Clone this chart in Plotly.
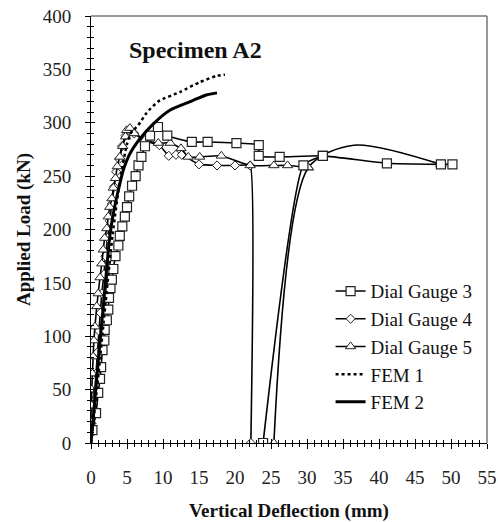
import plotly.graph_objects as go

N = None
# ---- data (Vertical deflection in mm, applied load in kN) ----
dg3_x = [0.2, 0.7, 1.0, 1.25, 1.4, 1.6, 1.85, 1.9, 2.2, 2.4, 2.5, 2.7, 2.9, 3.1, 3.4, 3.8, 4.0, 4.35, 4.7,
         5.0, 5.3, 5.7, 6.2, 6.6, 7.0, 7.5, 8.2, 9.3, 10.6, 14.0, 16.2, 20.2, 23.3, 23.3, 26.2, 32.2, 41.1,
         48.6, 50.2, N, 23.9, 29.5, 32.2]
dg3_y = [12, 28, 47, 60, 71, 87, 96, 106, 115, 125, 136, 145, 153, 163, 175, 185, 194, 203, 212,
         221, 231, 241, 250, 260, 268, 278, 288, 296, 288, 282, 282, 281, 279, 269, 268, 269, 262,
         261, 261, N, 0, 260, 269]

dg4_x = [0.1, 0.3, 0.5, 0.7, 0.9, 1.1, 1.3, 1.5, 1.8, 2.0, 2.3, 2.6, 2.9, 3.2, 3.5, 3.9, 4.3, 4.8, 5.3,
         6.0, 7.5, 9.5, 10.8, 11.8, 12.6, 15.0, 17.5, 20.0, 22.1, 22.2]
dg4_y = [10, 25, 45, 65, 85, 105, 122, 140, 158, 175, 192, 208, 224, 240, 254, 266, 278, 288, 293,
         290, 283, 279, 269, 270, 270, 261, 260, 260, 260, 0]

dg5_x = [0.0, 0.1, 0.1, 0.2, 0.3, 0.4, 0.55, 0.8, 1.0, 1.25, 1.5, 1.7, 1.9, 2.2, 2.4, 2.6, 2.9, 3.1, 3.4,
         3.65, 4.0, 4.4, 4.8, 4.95, 5.4, 6.0, 7.5, 9.35, 11.0, 12.5, 13.5, 15.1, 18.1, 22.1, 25.4, 27.3,
         30.2]
dg5_y = [20, 35, 50, 65, 81, 96, 109, 128, 140, 155, 168, 181, 192, 201, 212, 221, 229, 239, 248,
         259, 268, 278, 287, 293, 295, 290, 284, 281, 281, 276, 268, 268, 269, 260, 260, 260,
         258]
# reloading branch of gauge 5 (measured points) and the smoothed curve through it
dg5_tail_x = [25.4, 30.2, 48.6]
dg5_tail_y = [0, 258, 261]
dg5_curve_x = [25.4, 30.2, 36.5, 48.6]
dg5_curve_y = [0, 258, 279, 261]

fem1_x = [0, 1.0, 2.0, 3.0, 4.0, 5.0, 5.5, 6.6, 7.7, 9.35, 12.4, 15.1, 17.5, 18.6]
fem1_y = [0, 62, 130, 195, 245, 280, 290, 298, 309, 320, 329, 338, 344, 345]

fem2_x = [0, 0.5, 1.0, 1.5, 2.0, 2.6, 3.1, 3.8, 4.5, 5.4, 6.8, 8.65, 11.0, 14.2, 16.0, 17.5]
fem2_y = [0, 38, 76, 113, 150, 193, 215, 237, 256, 271, 285, 299, 312, 321, 326, 328]

x_ticks = list(range(0, 56, 5))
y_ticks = list(range(0, 401, 50))

SERIF = "Liberation Serif, Times New Roman, serif"
LW = 1.6

PLOT_L, PLOT_T, PLOT_R, PLOT_B = 91, 16, 487, 443
W, H = 498, 522

fig = go.Figure()

tri_marker = dict(symbol="triangle-up", size=9, color="white", line=dict(color="#222", width=1))
fig.add_trace(go.Scatter(
    x=dg4_x, y=dg4_y, name="Dial Gauge 4", mode="lines+markers", legendrank=2,
    line=dict(color="black", width=LW, shape="spline", smoothing=0.3),
    marker=dict(symbol="diamond", size=7, color="white", line=dict(color="#222", width=1)),
))
fig.add_trace(go.Scatter(
    x=dg5_x, y=dg5_y, name="Dial Gauge 5", mode="lines+markers", legendrank=3,
    legendgroup="dg5",
    line=dict(color="black", width=LW, shape="spline", smoothing=0.5),
    marker=tri_marker,
))
fig.add_trace(go.Scatter(
    x=dg5_curve_x, y=dg5_curve_y, name="Dial Gauge 5", mode="lines", showlegend=False,
    legendgroup="dg5", hoverinfo="skip",
    line=dict(color="black", width=LW, shape="spline", smoothing=0.8),
))
fig.add_trace(go.Scatter(
    x=dg5_tail_x, y=dg5_tail_y, name="Dial Gauge 5", mode="markers", showlegend=False,
    legendgroup="dg5", marker=tri_marker,
))
fig.add_trace(go.Scatter(
    x=dg3_x, y=dg3_y, name="Dial Gauge 3", mode="lines+markers", legendrank=1,
    line=dict(color="black", width=LW, shape="spline", smoothing=0.5),
    marker=dict(symbol="square", size=9, color="white", line=dict(color="#222", width=1.2)),
))
fig.add_trace(go.Scatter(
    x=fem1_x, y=fem1_y, name="FEM 1", mode="lines", legendrank=4,
    line=dict(color="black", width=2.5, dash="dot", shape="spline", smoothing=0.6),
))
fig.add_trace(go.Scatter(
    x=fem2_x, y=fem2_y, name="FEM 2", mode="lines", legendrank=5,
    line=dict(color="black", width=3, shape="spline", smoothing=0.6),
))
# helper invisible trace for the inside-tick overlay axes
fig.add_trace(go.Scatter(x=[0], y=[0], xaxis="x2", yaxis="y2", mode="markers",
                         marker=dict(opacity=0), showlegend=False, hoverinfo="skip"))

tickfont = dict(family=SERIF, size=19, color="#222")
pw, ph = PLOT_R - PLOT_L, PLOT_B - PLOT_T

fig.update_layout(
    width=W, height=H,
    margin=dict(l=PLOT_L, r=W - PLOT_R, t=PLOT_T, b=H - PLOT_B),
    paper_bgcolor="white", plot_bgcolor="white",
    showlegend=True,
    legend=dict(x=0.605, y=0.40, xanchor="left", yanchor="top",
                font=dict(family=SERIF, size=19, color="#111"),
                bgcolor="rgba(255,255,255,0)", tracegroupgap=0,
                traceorder="normal"),
    xaxis=dict(range=[0, 55], tickvals=x_ticks, ticks="outside", ticklen=5, tickwidth=1,
               tickcolor="black", showline=True, linecolor="black", linewidth=1,
               showgrid=False, zeroline=False, tickfont=tickfont, ticklabelstandoff=12,
               automargin=False, ticklabeloverflow="allow",
               minor=dict(dtick=1, ticks="outside", ticklen=3, tickcolor="black", showgrid=False),
               title=dict(text="<b>Vertical Deflection (mm)</b>", standoff=16,
                          font=dict(family=SERIF, size=19, color="#111"))),
    yaxis=dict(range=[0, 400], tickvals=y_ticks, ticks="outside", ticklen=5, tickwidth=1,
               tickcolor="black", showline=True, linecolor="black", linewidth=1,
               showgrid=False, zeroline=False, tickfont=tickfont, ticklabelstandoff=10,
               automargin=False, ticklabeloverflow="allow",
               minor=dict(dtick=10, ticks="outside", ticklen=3, tickcolor="black", showgrid=False),
               title=dict(text="<b>Applied Load (kN)</b>", standoff=7,
                          font=dict(family=SERIF, size=19, color="#111"))),
    xaxis2=dict(range=[0, 55], overlaying="x", anchor="y2", side="bottom", tickvals=x_ticks,
                ticks="inside", ticklen=4, tickcolor="black", showticklabels=False,
                showline=False, showgrid=False, zeroline=False,
                minor=dict(dtick=1, ticks="inside", ticklen=3, tickcolor="black", showgrid=False)),
    yaxis2=dict(range=[0, 400], overlaying="y", anchor="x2", side="left", tickvals=y_ticks,
                ticks="inside", ticklen=4, tickcolor="black", showticklabels=False,
                showline=False, showgrid=False, zeroline=False,
                minor=dict(dtick=10, ticks="inside", ticklen=3, tickcolor="black", showgrid=False)),
    shapes=[
        dict(type="line", xref="paper", yref="paper", x0=0, x1=1, y0=1, y1=1,
             line=dict(color="#777", width=1.5)),
        dict(type="line", xref="paper", yref="paper", x0=1, x1=1, y0=0, y1=1,
             line=dict(color="#777", width=1.5)),
    ],
    annotations=[
        dict(text="<b>Specimen A2</b>", xref="paper", yref="paper",
             x=(127 - PLOT_L) / pw, y=(PLOT_B - 50) / ph, xanchor="left", yanchor="middle",
             showarrow=False, font=dict(family=SERIF, size=24, color="#111")),
    ],
)

# remove the browser's default 8px body margin so the figure fills the window exactly
fig.write_html("out.html", config={"displayModeBar": False},
               post_script="document.body.style.margin='0';document.body.style.overflow='hidden';")
